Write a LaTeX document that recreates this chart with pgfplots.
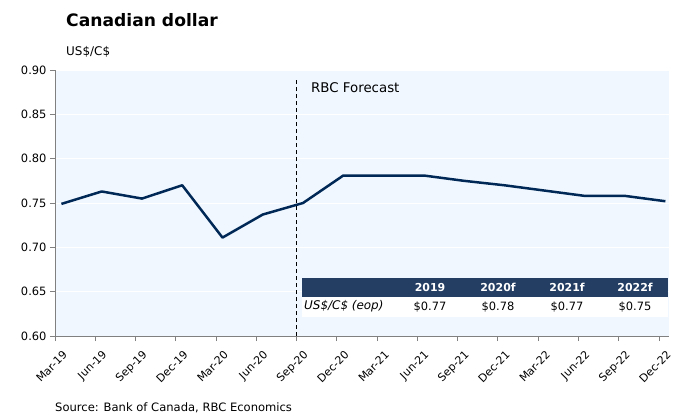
\documentclass[border=0pt]{standalone}
\usepackage{pgfplots}
\pgfplotsset{compat=1.18}
\usepackage{fontspec}
\setmainfont{DejaVu Sans}
\definecolor{navy}{RGB}{0,40,86}
\definecolor{bgblue}{RGB}{240,247,255}
\definecolor{hdr}{RGB}{36,62,99}
\definecolor{axgray}{RGB}{128,128,128}
\begin{document}
\begin{tikzpicture}[x=1bp,y=1bp]
\path[use as bounding box] (-55,-79) rectangle (623,336);
\begin{axis}[
  at={(0,0)}, anchor=south west,
  scale only axis, width=614bp, height=266bp,
  xmin=0, xmax=15.25, ymin=0.60, ymax=0.90,
  axis background/.style={fill=bgblue},
  axis x line*=bottom, axis y line*=left,
  axis line style={axgray, line width=0.8pt},
  xtick={0,...,15},
  xticklabels={Mar-19,Jun-19,Sep-19,Dec-19,Mar-20,Jun-20,Sep-20,Dec-20,Mar-21,Jun-21,Sep-21,Dec-21,Mar-22,Jun-22,Sep-22,Dec-22},
  x tick label style={xshift=10bp, yshift=-12bp, rotate=45, anchor=east, font=\fontsize{11}{12}\selectfont, inner sep=0pt},
  ytick={0.60,0.65,...,0.90},
  y tick label style={/pgf/number format/fixed, /pgf/number format/fixed zerofill, /pgf/number format/precision=2, /pgf/number format/assume math mode=true, font=\fontsize{11.5}{12}\selectfont},
  tick align=outside, tick pos=left,
  major tick length=5bp,
  tick style={axgray, line width=0.8pt},
  ymajorgrids, grid style={white, line width=1pt},
  clip=false,
]
\addplot[navy, line width=2.5pt, line join=round] coordinates {
(0.16,0.749) (1.16,0.763) (2.16,0.755) (3.16,0.770) (4.16,0.711) (5.16,0.737)
(6.16,0.750) (7.16,0.781) (8.16,0.781) (9.16,0.781) (10.16,0.775) (11.16,0.770)
(12.16,0.764) (13.16,0.758) (14.16,0.758) (15.16,0.752)};
\addplot[black, dash pattern=on 4bp off 3bp, line width=0.9pt] coordinates {(6,0.60) (6,0.889)};
\end{axis}
% table
\fill[hdr] (246.7,39.3) rectangle (613,57.7);
\fill[white] (246.7,19.3) rectangle (613,39.3);
\begin{scope}[every node/.style={font=\fontsize{11.5}{12}\selectfont, inner sep=0pt}]
\node[white, font=\fontsize{11}{12}\selectfont\bfseries] at (375,48.5) {2019};
\node[white, font=\fontsize{11}{12}\selectfont\bfseries] at (443,48.5) {2020f};
\node[white, font=\fontsize{11}{12}\selectfont\bfseries] at (512,48.5) {2021f};
\node[white, font=\fontsize{11}{12}\selectfont\bfseries] at (580,48.5) {2022f};
\node[anchor=west, font=\fontsize{12}{12}\selectfont\itshape] at (249,29.5) {US\$/C\$ (eop)};
\node at (375,29.5) {\$0.77};
\node at (443,29.5) {\$0.78};
\node at (512,29.5) {\$0.77};
\node at (580,29.5) {\$0.75};
\end{scope}
\node[anchor=west, inner sep=0pt, font=\fontsize{17.2}{20}\selectfont\bfseries] at (11,316) {Canadian dollar};
\node[anchor=west, inner sep=0pt, font=\fontsize{12}{14}\selectfont] at (11,284) {US\$/C\$};
\node[anchor=west, inner sep=0pt, font=\fontsize{13.4}{15}\selectfont] at (256,248) {RBC Forecast};
\node[anchor=west, inner sep=0pt, font=\fontsize{11.6}{13}\selectfont] at (0,-72) {Source: Bank of Canada, RBC Economics};
\end{tikzpicture}
\end{document}
